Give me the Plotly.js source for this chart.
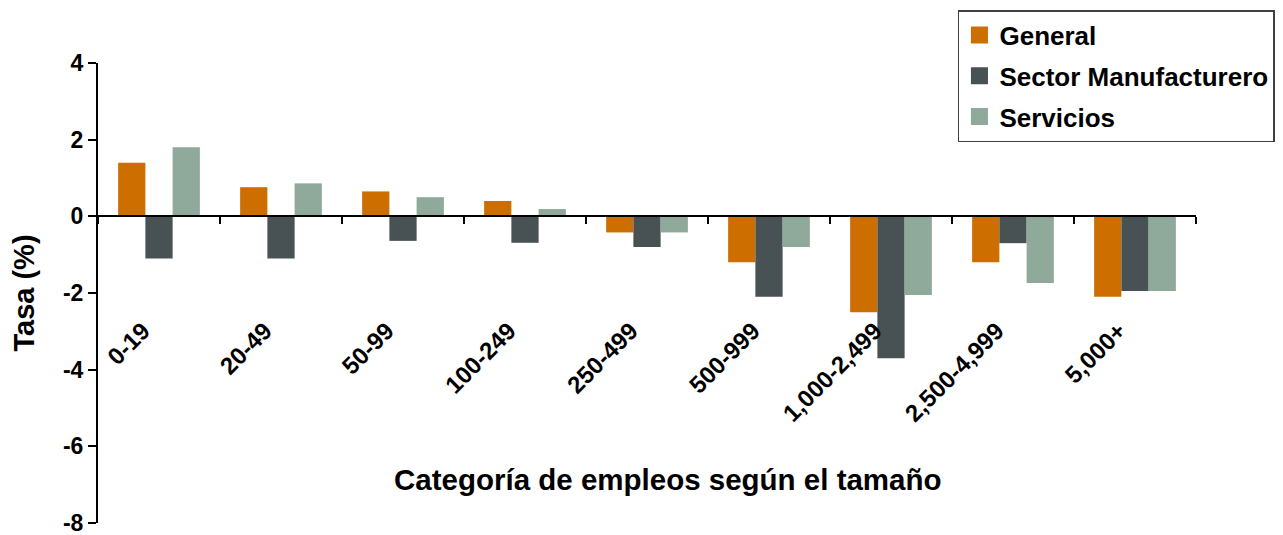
<!DOCTYPE html>
<html>
<head>
<meta charset="utf-8">
<script src="https://cdn.plot.ly/plotly-3.0.1.min.js"></script>
<style>html,body{margin:0;padding:0;background:#fff;}#chart{width:1283px;height:535px;}</style>
</head>
<body>
<div id="chart"></div>
<script>
const categories = ["0-19", "20-49", "50-99", "100-249", "250-499", "500-999", "1,000-2,499", "2,500-4,999", "5,000+"];
const general = [1.4, 0.76, 0.65, 0.4, -0.42, -1.2, -2.5, -1.2, -2.1];
const manufacturero = [-1.1, -1.1, -0.64, -0.69, -0.8, -2.1, -3.7, -0.7, -1.95];
const servicios = [1.8, 0.86, 0.5, 0.19, -0.42, -0.8, -2.05, -1.74, -1.95];
const seriesNames = ["General", "Sector Manufacturero", "Servicios"];
const colors = ["#CC6F00", "#485154", "#8FA99B"];
const yTicks = [-8, -6, -4, -2, 0, 2, 4];
const xTitle = "Categoría de empleos según el tamaño";
const yTitle = "Tasa (%)";

const FONT = "Liberation Sans, Arial, sans-serif";
const vals = [general, manufacturero, servicios];
const traces = vals.map((v, i) => ({
  type: "bar",
  name: seriesNames[i],
  x: categories,
  y: v,
  marker: {color: colors[i], line: {width: 0}},
  legendgroup: "g" + i,
  hoverinfo: "x+y+name"
}));

const layout = {
  width: 1283,
  height: 535,
  margin: {l: 98, r: 87, t: 63, b: 12, autoexpand: false},
  paper_bgcolor: "#fff",
  plot_bgcolor: "#fff",
  barmode: "group",
  bargap: 0.33,
  bargroupgap: 0,
  font: {family: FONT, color: "#000", weight: "bold"},
  showlegend: true,
  legend: {
    x: 0.7832, y: 1.115, xanchor: "left", yanchor: "top",
    bordercolor: "#404040", borderwidth: 1.5,
    bgcolor: "#fff",
    font: {family: FONT, size: 26, color: "#000", weight: "bold"},
    traceorder: "grouped",
    tracegroupgap: 4,
    itemwidth: 30
  },
  xaxis: {
    type: "category",
    anchor: "free",
    position: 8 / 12,
    showline: true, linecolor: "#000", linewidth: 2,
    ticks: "outside", tickson: "boundaries", ticklen: 7, tickwidth: 2, tickcolor: "#000",
    tickangle: -45,
    ticklabelstandoff: 90,
    ticklabelshift: -16,
    tickfont: {family: FONT, size: 24, color: "#000", weight: "bold"},
    showgrid: false, zeroline: false,
    fixedrange: true
  },
  yaxis: {
    range: [-8, 4],
    tickvals: yTicks,
    ticktext: yTicks.map(String),
    ticklabeloverflow: "allow",
    showline: true, linecolor: "#000", linewidth: 2,
    ticks: "outside", ticklen: 8, tickwidth: 2, tickcolor: "#000",
    tickfont: {family: FONT, size: 23, color: "#000", weight: "bold"},
    showgrid: false, zeroline: false,
    title: {
      text: yTitle,
      font: {family: FONT, size: 29, color: "#000", weight: "bold"},
      standoff: 20
    },
    fixedrange: true
  },
  annotations: [{
    text: xTitle,
    xref: "paper", yref: "paper",
    x: 0.519, y: 0.0935, xanchor: "center", yanchor: "middle",
    showarrow: false,
    font: {family: FONT, size: 29.5, color: "#000", weight: "bold"}
  }]
};

Plotly.newPlot("chart", traces, layout, {displayModeBar: false}).then(gd => {
  gd.querySelectorAll(".legend .legendpoints path").forEach(p => {
    const t = p.getAttribute("transform") || "";
    p.setAttribute("transform", t + " scale(1.42)");
  });
});
</script>
</body>
</html>
